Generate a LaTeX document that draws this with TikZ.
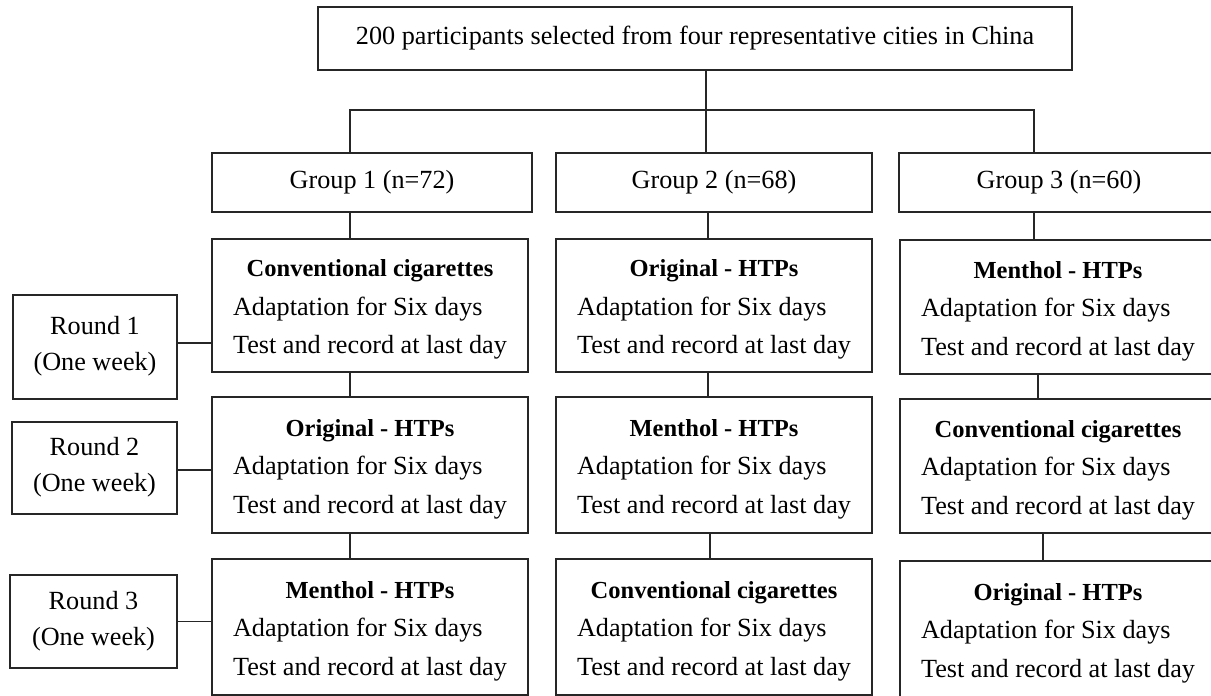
\documentclass[tikz,border=0pt]{standalone}
\usepackage{fontspec}
\setmainfont{Liberation Serif}
\usepackage{array}
\newcommand{\stagetxt}[1]{\begin{tabular}{@{}l@{}}\multicolumn{1}{@{}c@{}}{\rule{0pt}{31pt}\fontsize{24.5}{38.5}\selectfont\bfseries #1}\\Adaptation for Six days\\Test and record at last day\end{tabular}}
\newcommand{\roundtxt}[1]{\begin{tabular}{@{}c@{}}Round #1\\(One week)\rule[-14pt]{0pt}{0pt}\end{tabular}}
\tikzset{
  bx/.style={draw=black!85, line width=1.2pt, inner sep=0pt, rectangle, font=\fontsize{26.2}{38.5}\selectfont},
  rbx/.style={bx, font=\fontsize{26.2}{36}\selectfont},
  ln/.style={draw=black!85, line width=1.2pt},
}
\begin{document}
\begin{tikzpicture}[x=1pt,y=-1pt]
\useasboundingbox (0,0) rectangle (1211,696);
\clip (0,0) rectangle (1211,696);
% top
\node[bx, minimum width=754pt, minimum height=63pt] (top) at (695,38.5) {200 participants selected from four representative cities in China};
% groups
\node[bx, minimum width=320pt, minimum height=59pt] (g1) at (372,182.5) {Group 1 (n=72)};
\node[bx, minimum width=316pt, minimum height=59pt] (g2) at (714,182.5) {Group 2 (n=68)};
\node[bx, minimum width=320pt, minimum height=59pt] (g3) at (1059,182.5) {Group 3 (n=60)};
% rows
\node[bx, minimum width=316pt, minimum height=133pt] (r11) at (370,305.5) {\stagetxt{Conventional cigarettes}};
\node[bx, minimum width=316pt, minimum height=136pt] (r21) at (370,465) {\stagetxt{Original - HTPs}};
\node[bx, minimum width=316pt, minimum height=136pt] (r31) at (370,627) {\stagetxt{Menthol - HTPs}};
\node[bx, minimum width=316pt, minimum height=133pt] (r12) at (714,305.5) {\stagetxt{Original - HTPs}};
\node[bx, minimum width=316pt, minimum height=136pt] (r22) at (714,465) {\stagetxt{Menthol - HTPs}};
\node[bx, minimum width=316pt, minimum height=136pt] (r32) at (714,627) {\stagetxt{Conventional cigarettes}};
\node[bx, minimum width=316pt, minimum height=134pt] (r13) at (1058,307) {\stagetxt{Menthol - HTPs}};
\node[bx, minimum width=316pt, minimum height=134pt] (r23) at (1058,466) {\stagetxt{Conventional cigarettes}};
\node[bx, minimum width=316pt, minimum height=136pt] (r33) at (1058,629) {\stagetxt{Original - HTPs}};
% rounds
\node[rbx, minimum width=164pt, minimum height=104pt] (R1) at (95,347) {\roundtxt{1}};
\node[rbx, minimum width=165pt, minimum height=92pt] (R2) at (94.5,468) {\roundtxt{2}};
\node[rbx, minimum width=167pt, minimum height=93pt] (R3) at (93.5,621.5) {\roundtxt{3}};
% connectors
\coordinate (h1) at (350,110);
\coordinate (h2) at (706,110);
\coordinate (h3) at (1034,110);
\draw[ln] (h2 |- top.south) -- (h2 |- g2.north);
\draw[ln] (h1 |- g1.north) -- (h1) -- (h3) -- (h3 |- g3.north);
\coordinate (c1) at (350,0);
\coordinate (c2a) at (708,0);
\coordinate (c2b) at (710,0);
\coordinate (c3a) at (1034,0);
\coordinate (c3b) at (1038,0);
\coordinate (c3c) at (1043,0);
\draw[ln] (c1 |- g1.south) -- (c1 |- r11.north);
\draw[ln] (c1 |- r11.south) -- (c1 |- r21.north);
\draw[ln] (c1 |- r21.south) -- (c1 |- r31.north);
\draw[ln] (c2a |- g2.south) -- (c2a |- r12.north);
\draw[ln] (c2a |- r12.south) -- (c2a |- r22.north);
\draw[ln] (c2b |- r22.south) -- (c2b |- r32.north);
\draw[ln] (c3a |- g3.south) -- (c3a |- r13.north);
\draw[ln] (c3b |- r13.south) -- (c3b |- r23.north);
\draw[ln] (c3c |- r23.south) -- (c3c |- r33.north);
\draw[ln] ([yshift=4pt]R1.east) coordinate (a1) -- (a1 -| r11.west);
\draw[ln] ([yshift=-2pt]R2.east) coordinate (a2) -- (a2 -| r21.west);
\draw[ln] (R3.east) -- (R3.east -| r31.west);
\end{tikzpicture}
\end{document}
